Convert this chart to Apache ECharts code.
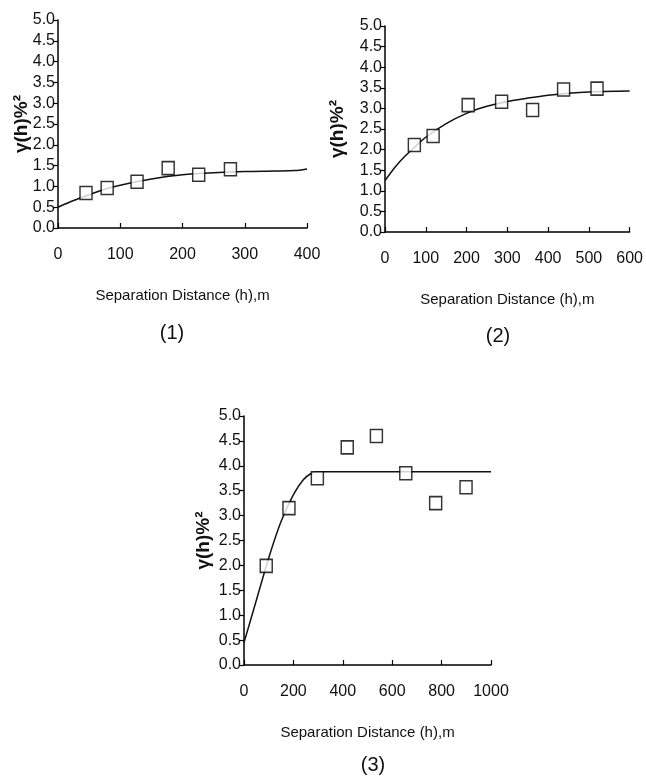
<!DOCTYPE html>
<html>
<head>
<meta charset="utf-8">
<script src="https://cdn.jsdelivr.net/npm/echarts@6/dist/echarts.min.js"></script>
<style>
  html, body { margin: 0; padding: 0; background: #fff; }
  #chart { width: 646px; height: 782px; }
</style>
</head>
<body>
<div id="chart"></div>
<script>
  // semivariogram (1)
  var obs1X = [45, 79, 127, 177, 226, 277];
  var obs1Y = [0.84, 0.96, 1.11, 1.44, 1.28, 1.41];
  var fit1X = [0, 25, 50, 75, 100, 150, 200, 250, 300, 350, 380, 400];
  var fit1Y = [0.5, 0.66, 0.8, 0.93, 1.03, 1.18, 1.28, 1.33, 1.36, 1.37, 1.38, 1.42];

  // semivariogram (2)
  var obs2X = [72, 118, 204, 286, 362, 438, 520];
  var obs2Y = [2.11, 2.33, 3.08, 3.16, 2.96, 3.46, 3.48];
  var fit2X = [0, 25, 50, 75, 100, 150, 200, 250, 300, 350, 400, 450, 500, 600];
  var fit2Y = [1.25, 1.58, 1.85, 2.08, 2.3, 2.63, 2.88, 3.05, 3.17, 3.25, 3.32, 3.37, 3.4, 3.42];

  // semivariogram (3)
  var obs3X = [90, 182, 297, 418, 536, 655, 776, 899];
  var obs3Y = [1.99, 3.15, 3.75, 4.37, 4.6, 3.85, 3.25, 3.57];
  var fit3X = [0, 50, 100, 150, 200, 240, 270, 295, 1000];
  var fit3Y = [0.45, 1.3, 2.15, 2.88, 3.42, 3.72, 3.84, 3.88, 3.88];

  var xMax = [400, 600, 1000];
  var xStep = [100, 100, 200];
  var panelNames = ['(1)', '(2)', '(3)'];
  var xTitle = 'Separation Distance (h),m';
  var yTitle = 'γ(h)%²';

  var font = '"Liberation Sans", Arial, sans-serif';

  function pairs(xs, ys) {
    var out = [];
    for (var i = 0; i < xs.length; i++) out.push([xs[i], ys[i]]);
    return out;
  }

  var grids = [
    { left: 58, top: 20, width: 249, height: 208 },
    { left: 385, top: 26, width: 250, height: 206 },
    { left: 244, top: 416, width: 247, height: 249 }
  ];
  var yGaps = [27, 38, 31];

  var xAxes = [], yAxes = [], series = [];
  for (var g = 0; g < 3; g++) {
    xAxes.push({
      type: 'value', gridIndex: g, min: 0, max: xMax[g], interval: xStep[g],
      name: xTitle, nameLocation: 'middle', nameGap: 60,
      nameTextStyle: { color: '#111', fontSize: 15, fontFamily: font },
      axisLine: { lineStyle: { color: '#000', width: 1.5 } },
      axisTick: { inside: true, length: 5, lineStyle: { color: '#000', width: 1.2 } },
      axisLabel: { color: '#111', fontSize: 16, fontFamily: font, margin: 19,
        formatter: function (v) { return String(v); } },
      splitLine: { show: false }
    });
    yAxes.push({
      type: 'value', gridIndex: g, min: 0, max: 5, interval: 0.5,
      name: yTitle, nameLocation: 'middle', nameGap: yGaps[g], nameMoveOverlap: false,
      nameTextStyle: { color: '#111', fontSize: 19, fontWeight: 'bold', fontFamily: font },
      axisLine: { show: true, lineStyle: { color: '#000', width: 1.5 } },
      axisTick: { show: true, length: 4, lineStyle: { color: '#000', width: 1.2 } },
      axisLabel: { color: '#111', fontSize: 16, fontFamily: font, margin: 3,
        formatter: function (v) { return v.toFixed(1); } },
      splitLine: { show: false }
    });
  }

  var fits = [[fit1X, fit1Y], [fit2X, fit2Y], [fit3X, fit3Y]];
  var obs = [[obs1X, obs1Y], [obs2X, obs2Y], [obs3X, obs3Y]];
  for (var k = 0; k < 3; k++) {
    series.push({
      type: 'line', xAxisIndex: k, yAxisIndex: k, smooth: 0.25, showSymbol: false,
      data: pairs(fits[k][0], fits[k][1]),
      lineStyle: { color: '#111', width: 1.5 }, z: 2, silent: true
    });
    series.push({
      type: 'scatter', xAxisIndex: k, yAxisIndex: k, symbol: 'rect', symbolSize: [12, 13],
      data: pairs(obs[k][0], obs[k][1]),
      itemStyle: { color: '#fff', borderColor: '#000', borderWidth: 1.5 }, z: 3
    });
  }

  var titleStyle = { fontSize: 20, fontWeight: 'normal', color: '#111', fontFamily: font };
  var chart = echarts.init(document.getElementById('chart'));
  chart.setOption({
    backgroundColor: '#fff',
    animation: false,
    title: [
      { text: panelNames[0], left: 167, top: 318, textAlign: 'center', textStyle: titleStyle },
      { text: panelNames[1], left: 493, top: 321, textAlign: 'center', textStyle: titleStyle },
      { text: panelNames[2], left: 368, top: 750, textAlign: 'center', textStyle: titleStyle }
    ],
    grid: grids,
    xAxis: xAxes,
    yAxis: yAxes,
    series: series
  });
</script>
</body>
</html>
